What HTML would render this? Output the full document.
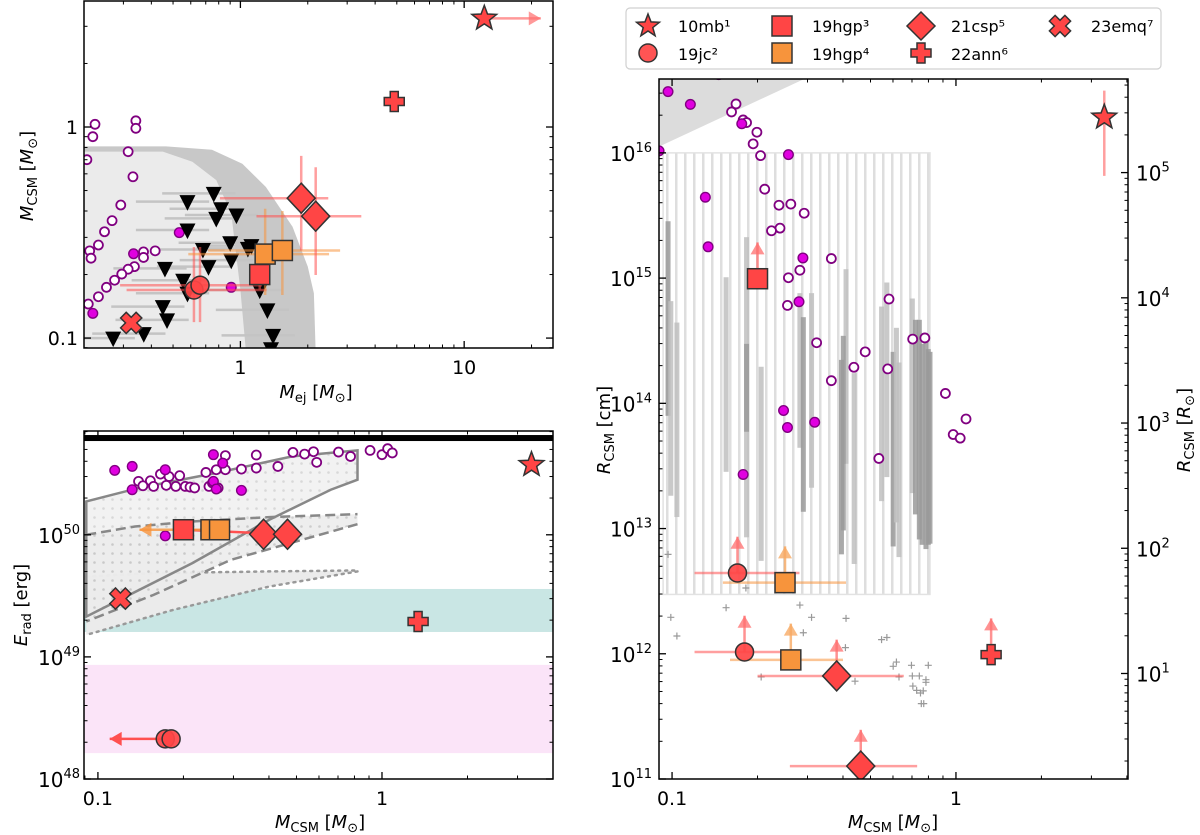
<!DOCTYPE html>
<html><head><meta charset="utf-8"><title>CSM parameter comparison</title>
<style>
html,body{margin:0;padding:0;background:#fff;}
svg{display:block;font-family:"DejaVu Sans","Liberation Sans",sans-serif;}
</style></head>
<body>
<svg id="fig" xmlns="http://www.w3.org/2000/svg" width="1200" height="835" viewBox="0 0 1200 835">
<defs>
  <clipPath id="clipA"><rect x="84" y="1" width="469" height="347"/></clipPath>
  <clipPath id="clipB"><rect x="84" y="431" width="469" height="348"/></clipPath>
  <clipPath id="clipC"><rect x="659" y="79" width="469" height="700"/></clipPath>
  <pattern id="dots" width="9" height="9" patternUnits="userSpaceOnUse">
    <rect width="9" height="9" fill="#ececec"/><circle cx="4.5" cy="4.5" r="1.3" fill="#c8c8c8"/>
  </pattern>
  <pattern id="stripes" width="9" height="10" patternUnits="userSpaceOnUse">
    <rect width="9" height="10" fill="#fff"/><rect x="0" width="2.5" height="10" fill="#dedede"/>
  </pattern>
</defs>

<g id="panelA">
  <g id="A-content" clip-path="url(#clipA)"></g>
  <rect x="84" y="1" width="469" height="347" fill="none" stroke="#000" stroke-width="1.5"/>
  <g id="A-ticks"></g>
  <text x="316" y="398" font-size="18" text-anchor="middle"><tspan font-style="italic">M</tspan><tspan font-size="13" dy="4">ej</tspan><tspan dy="-4"> [</tspan><tspan font-style="italic">M</tspan><tspan font-size="13" dy="4">⊙</tspan><tspan dy="-4">]</tspan></text>
  <text transform="translate(33,176) rotate(-90)" font-size="18" text-anchor="middle"><tspan font-style="italic">M</tspan><tspan font-size="13" dy="4">CSM</tspan><tspan dy="-4"> [</tspan><tspan font-style="italic">M</tspan><tspan font-size="13" dy="4">⊙</tspan><tspan dy="-4">]</tspan></text>
</g>

<g id="panelB">
  <g id="B-content" clip-path="url(#clipB)"></g>
  <rect x="84" y="431" width="469" height="348" fill="none" stroke="#000" stroke-width="1.5"/>
  <g id="B-ticks"></g>
  <text x="320" y="828" font-size="18" text-anchor="middle"><tspan font-style="italic">M</tspan><tspan font-size="13" dy="4">CSM</tspan><tspan dy="-4"> [</tspan><tspan font-style="italic">M</tspan><tspan font-size="13" dy="4">⊙</tspan><tspan dy="-4">]</tspan></text>
  <text transform="translate(27,605) rotate(-90)" font-size="18" text-anchor="middle"><tspan font-style="italic">E</tspan><tspan font-size="13" dy="4">rad</tspan><tspan dy="-4"> [erg]</tspan></text>
</g>

<g id="panelC">
  <g id="C-content" clip-path="url(#clipC)"></g>
  <rect x="659" y="79" width="469" height="700" fill="none" stroke="#000" stroke-width="1.5"/>
  <g id="C-ticks"></g>
  <text x="893" y="828" font-size="18" text-anchor="middle"><tspan font-style="italic">M</tspan><tspan font-size="13" dy="4">CSM</tspan><tspan dy="-4"> [</tspan><tspan font-style="italic">M</tspan><tspan font-size="13" dy="4">⊙</tspan><tspan dy="-4">]</tspan></text>
  <text transform="translate(610,430) rotate(-90)" font-size="18" text-anchor="middle"><tspan font-style="italic">R</tspan><tspan font-size="13" dy="4">CSM</tspan><tspan dy="-4"> [cm]</tspan></text>
  <text transform="translate(1190,430) rotate(-90)" font-size="18" text-anchor="middle"><tspan font-style="italic">R</tspan><tspan font-size="13" dy="4">CSM</tspan><tspan dy="-4"> [</tspan><tspan font-style="italic">R</tspan><tspan font-size="13" dy="4">⊙</tspan><tspan dy="-4">]</tspan></text>
</g>

<g id="legend">
  <rect x="626" y="8" width="535" height="61" rx="4" fill="#fff" stroke="#d0d0d0" stroke-width="1.2"/>
  <g id="legend-marks"></g>
  <text x="678" y="32" font-size="16">10mb¹</text>
  <text x="678" y="60" font-size="16">19jc²</text>
  <text x="812" y="32" font-size="16">19hgp³</text>
  <text x="812" y="60" font-size="16">19hgp⁴</text>
  <text x="951" y="32" font-size="16">21csp⁵</text>
  <text x="951" y="60" font-size="16">22ann⁶</text>
  <text x="1091" y="32" font-size="16">23emq⁷</text>
</g>
</svg>

<script>
// Panel A (M_ej, M_CSM)
const aTriX = [0.76,0.58,0.82,0.78,0.96,0.58,0.90,1.12,0.68,1.08,0.91,0.72,0.46,0.555,0.58,1.22,0.45,0.47,1.32,1.40,0.37,0.27,1.37];
const aTriY = [0.485,0.443,0.41,0.369,0.383,0.325,0.283,0.274,0.263,0.266,0.234,0.218,0.214,0.188,0.163,0.169,0.141,0.122,0.136,0.103,0.105,0.1,0.089];
const aOpenX = [0.224,0.219,0.341,0.341,0.206,0.315,0.331,0.292,0.267,0.247,0.232,0.212,0.215,0.369,0.369,0.416,0.336,0.315,0.295,0.274,0.252,0.232,0.209];
const aOpenY = [1.03,0.90,1.07,0.986,0.70,0.764,0.581,0.427,0.36,0.319,0.276,0.259,0.239,0.256,0.241,0.259,0.218,0.212,0.201,0.188,0.174,0.157,0.145];
const aFillX = [0.533,0.333,0.91,0.219];
const aFillY = [0.316,0.251,0.174,0.131];
const aOuterX = [0.2,0.465,0.746,1.02,1.30,1.71,2.0,2.13,2.17];
const aOuterY = [0.81,0.81,0.78,0.67,0.52,0.337,0.218,0.163,0.085];
const aInnerX = [0.2,0.45,0.61,0.78,0.91,1.0,1.06];
const aInnerY = [0.764,0.764,0.685,0.56,0.39,0.169,0.085];
const aStar = {x:12.3, y:3.27, xArrow:22};
const aPlus = {x:4.87, y:1.32};
const aDiaX = [1.87,2.17], aDiaY=[0.46,0.378];
const aDiaXlo=[0.81,1.18], aDiaXhi=[2.47,3.47], aDiaYlo=[0.26,0.199], aDiaYhi=[0.73,0.645];
const aOrX=[1.29,1.54], aOrY=[0.25,0.26], aOrXlo=[0.585,0.717], aOrXhi=[2.49,2.79], aOrYlo=[0.16,0.16], aOrYhi=[0.41,0.40];
const aSq = {x:1.22, y:0.20, ylo:0.17, yhi:0.24};
const aCirX=[0.62,0.66], aCirY=[0.169,0.178], aCirXlo=[0.31,0.29], aCirXhi=[1.31,1.25], aCirYlo=[0.119,0.119], aCirYhi=[0.27,0.27];
const aX = {x:0.325, y:0.118};

// Panel B (M_CSM, E_rad)
const bOpenM = [0.139,0.144,0.153,0.157,0.166,0.174,0.178,0.188,0.194,0.203,0.211,0.219,0.24,0.246,0.253,0.261,0.265,0.281,0.281,0.32,0.361,0.361,0.43,0.486,0.534,0.574,0.589,0.703,0.775,0.908,1.0,1.047,1.087];
const bOpenE = [2.74e50,2.52e50,2.77e50,2.49e50,3.14e50,2.54e50,3.0e50,2.49e50,3.05e50,2.49e50,2.46e50,2.42e50,3.24e50,2.49e50,2.66e50,3.41e50,2.42e50,3.41e50,4.45e50,3.45e50,4.5e50,3.52e50,3.63e50,4.73e50,4.58e50,4.79e50,3.92e50,4.76e50,4.38e50,4.91e50,4.53e50,5.07e50,4.68e50];
const bFillM = [0.1146,0.132,0.132,0.1726,0.1726,0.255,0.255,0.261,0.275,0.32];
const bFillE = [3.37e50,3.63e50,2.34e50,3.41e50,0.98e50,4.53e50,2.74e50,2.37e50,3.86e50,2.31e50];
const bSolidM = [0.091,0.139,0.259,0.483,0.82,0.82,0.66,0.401,0.215,0.091];
const bSolidLogE = [50.273,50.383,50.505,50.642,50.691,50.451,50.369,50.123,49.768,49.33];
const bDashUpM = [0.091,0.135,0.215,0.401,0.82], bDashUpLogE=[50.0,50.068,50.109,50.145,50.169];
const bDashLoM = [0.82,0.294,0.157,0.091], bDashLoLogE=[50.087,49.795,49.508,49.29];
const bDotUpM = [0.091,0.157,0.401,0.82], bDotUpLogE=[49.658,49.686,49.7,49.708];
const bDotLoM = [0.82,0.401,0.184,0.091], bDotLoLogE=[49.7,49.576,49.385,49.18];
const bTeal = [1.6e49, 3.6e49];
const bPink = [1.63e48, 8.6e48];
const bLimitE = 6.2e50;
const bStar = {m:3.36, e:3.75e50};
const bSq = {m:0.2, e:1.1e50};
const bOrM = [0.25,0.268], bOrE=[1.1e50,1.1e50], bOrArrowTo=0.14;
const bDiaM = [0.383,0.465], bDiaE=[1.01e50,1.01e50];
const bX = {m:0.12, e:3.0e49};
const bPlus = {m:1.34, e:1.95e49, arrowTo:1.24};
const bCirM = [0.1726,0.181], bCirE=[2.13e48,2.13e48], bCirArrowTo=0.11;

// Panel C (M_CSM, R_CSM)
const cOpenM = [0.168,0.162,0.178,0.183,0.199,0.193,0.205,0.212,0.238,0.262,0.292,0.24,0.224,0.257,0.282,0.255,0.364,0.323,0.581,0.704,0.777,0.479,0.437,0.575,0.364,0.918,1.085,0.978,1.035,0.535];
const cOpenLogR = [16.391,16.327,16.263,16.242,16.165,16.072,15.978,15.71,15.582,15.591,15.518,15.399,15.378,15.003,15.063,14.782,15.156,14.484,14.833,14.513,14.522,14.411,14.288,14.275,14.181,14.079,13.875,13.751,13.722,13.56];
const cFillM = [0.0968,0.116,0.176,0.146,0.257,0.131,0.134,0.289,0.28,0.247,0.255,0.318,0.178,0.09];
const cFillLogR = [16.489,16.387,16.233,16.625,15.986,15.646,15.25,15.161,14.811,13.943,13.807,13.849,13.432,16.016];
const cPlusM = [0.0968,0.099,0.104,0.182,0.155,0.282,0.31,0.29,0.41,0.408,0.206,0.441,0.63,0.547,0.571,0.601,0.617,0.697,0.799,0.702,0.743,0.784,0.784,0.705,0.727,0.75,0.767,0.755,0.77];
const cPlusLogR = [12.794,12.291,12.142,12.525,12.368,12.389,12.291,12.168,12.283,12.049,11.815,11.781,11.815,12.113,12.13,11.9,11.934,11.908,11.908,11.823,11.823,11.793,11.772,11.742,11.708,11.687,11.704,11.602,11.602];
const cBarM = [0.0968,0.099,0.104,0.155,0.183,0.183,0.206,0.282,0.29,0.31,0.41,0.401,0.395,0.438,0.547,0.571,0.601,0.617,0.63,0.702,0.72,0.743,0.76,0.784,0.799,0.81];
const cBarTop = [15.454,14.816,14.645,15.007,15.327,14.475,14.292,14.88,14.688,14.88,15.071,14.539,14.347,14.241,14.773,14.965,14.411,14.603,14.326,14.837,14.667,14.667,14.475,14.496,14.433,14.411];
const cBarBot = [13.90,13.262,13.092,13.453,12.93,13.773,12.742,13.645,13.134,13.326,13.517,12.985,12.794,12.717,13.219,13.411,12.857,13.049,12.772,13.283,13.113,12.913,12.87,12.836,12.87,12.879];
const cBarDark = [1,0,0,0,0,1,0,0,1,0,0,1,1,0,0,0,1,0,0,0,1,1,1,1,1,1];
const cStripe = {m0:0.093, m1:0.81, r0:12.474, r1:16.0};
const cWedge = {m1:0.292, rLeft:16.05};
const cStar = {m:3.33, logR:16.284, lo:15.816, hi:16.497};
const cSq = {m:0.2, logR:14.995};
const cCir = {m:[0.17,0.18], logR:[12.645,12.014], mlo:[0.12,0.12], mhi:[0.281,0.27]};
const cOr = {m:[0.25,0.262], logR:[12.568,11.951], mlo:[0.151,0.16], mhi:[0.41,0.40]};
const cDia = {m:[0.38,0.462], logR:[11.823,11.103], mlo:[0.2,0.26], mhi:[0.655,0.73]};
const cPlus = {m:1.33, logR:11.993};

const NS='http://www.w3.org/2000/svg';
const LOG=Math.log10;
function mk(tag,parent,attrs){const e=document.createElementNS(NS,tag);for(const k in attrs)e.setAttribute(k,attrs[k]);parent.appendChild(e);return e;}
function scale(p0,p1,l0,l1){return v=>p0+(LOG(v)-l0)/(l1-l0)*(p1-p0);}
function lin(p0,p1,l0,l1){return v=>p0+(v-l0)/(l1-l0)*(p1-p0);}

const RED='#ff4545', ORANGE='#f7943c', EDGE='#333', ERR='rgba(255,80,80,0.55)', OERR='rgba(247,148,60,0.55)';

function starPts(cx,cy,r){let s='';for(let i=0;i<10;i++){const rr=i%2?r*0.42:r;const a=-Math.PI/2+i*Math.PI/5;s+=(cx+rr*Math.cos(a)).toFixed(1)+','+(cy+rr*Math.sin(a)).toFixed(1)+' ';}return s;}
function drawStar(g,cx,cy,r){return mk('polygon',g,{points:starPts(cx,cy,r),fill:RED,stroke:EDGE,'stroke-width':1.5});}
function drawCircle(g,cx,cy,r){return mk('circle',g,{cx,cy,r,fill:RED,stroke:EDGE,'stroke-width':1.5,'fill-opacity':0.92});}
function drawSquare(g,cx,cy,s,c){return mk('rect',g,{x:cx-s/2,y:cy-s/2,width:s,height:s,fill:c,stroke:EDGE,'stroke-width':1.5});}
function drawDiamond(g,cx,cy,w,h){return mk('polygon',g,{points:`${cx},${cy-h} ${cx+w},${cy} ${cx},${cy+h} ${cx-w},${cy}`,fill:RED,stroke:EDGE,'stroke-width':1.5});}
function drawPlus(g,cx,cy,r,t){const p=[[-t,-r],[t,-r],[t,-t],[r,-t],[r,t],[t,t],[t,r],[-t,r],[-t,t],[-r,t],[-r,-t],[-t,-t]].map(q=>(cx+q[0])+','+(cy+q[1])).join(' ');return mk('polygon',g,{points:p,fill:RED,stroke:EDGE,'stroke-width':1.5});}
function drawX(g,cx,cy,r,t){const pts=[];const base=[[-t,-r],[t,-r],[t,-t],[r,-t],[r,t],[t,t],[t,r],[-t,r],[-t,t],[-r,t],[-r,-t],[-t,-t]];const c=Math.SQRT1_2;base.forEach(q=>{pts.push((cx+(q[0]-q[1])*c).toFixed(1)+','+(cy+(q[0]+q[1])*c).toFixed(1));});return mk('polygon',g,{points:pts.join(' '),fill:RED,stroke:EDGE,'stroke-width':1.5});}
function drawTri(g,cx,cy,w,h){return mk('polygon',g,{points:`${cx-w},${cy-h*0.5} ${cx+w},${cy-h*0.5} ${cx},${cy+h*0.7}`,fill:'#000'});}
function line(g,x1,y1,x2,y2,c,w){return mk('line',g,{x1,y1,x2,y2,stroke:c,'stroke-width':w});}
function arrow(g,x1,y1,x2,y2,c){line(g,x1,y1,x2,y2,c,2.5);const a=Math.atan2(y2-y1,x2-x1),L=12,W=7;const bx=x2-L*Math.cos(a),by=y2-L*Math.sin(a);const px=-Math.sin(a)*W,py=Math.cos(a)*W;return mk('polygon',g,{points:`${x2},${y2} ${bx+px},${by+py} ${bx-px},${by-py}`,fill:c});}
function openCircle(g,cx,cy){return mk('circle',g,{cx,cy,r:4.5,fill:'#fff',stroke:'#800080','stroke-width':1.8});}
function fillCircle(g,cx,cy){return mk('circle',g,{cx,cy,r:4.8,fill:'#e000e0',stroke:'#800080','stroke-width':1.4});}

function txt(g,x,y,s,anchor,size){const t=mk('text',g,{x,y,'font-size':size||19,'text-anchor':anchor||'middle'});t.textContent=s;return t;}
function powTxt(g,x,y,exp,anchor){const t=mk('text',g,{x,y,'font-size':20,'text-anchor':anchor||'end'});const a=mk('tspan',t,{});a.textContent='10';const b=mk('tspan',t,{'font-size':13,dy:-9});b.textContent=String(exp);return t;}

function logSide(g,f,lo,hi,side,fixed){
  for(let d=Math.floor(lo)-1; d<=Math.ceil(hi); d++){
    for(let m=1;m<10;m++){
      const lv=d+Math.log10(m);
      if(lv<lo-1e-6||lv>hi+1e-6)continue;
      const p=f(Math.pow(10,lv)); const L=m===1?7:3.5; const w=m===1?1.3:1;
      if(side==='b')line(g,p,fixed,p,fixed-L,'#000',w);
      if(side==='t')line(g,p,fixed,p,fixed+L,'#000',w);
      if(side==='l')line(g,fixed,p,fixed+L,p,'#000',w);
      if(side==='r')line(g,fixed,p,fixed-L,p,'#000',w);
    }
  }
}

// PANEL A
(function(){
  const g=document.getElementById('A-content'), tk=document.getElementById('A-ticks');
  const X=scale(84,553,LOG(0.2),1.397), Y=scale(348,1,-1.047,0.597);
  let pts=aOuterX.map((v,i)=>X(v)+','+Y(aOuterY[i]));pts.push(X(0.2)+','+Y(0.085));
  const outer=mk('polygon',g,{points:pts.join(' '),fill:'#c8c8c8'});
  
  
  pts=aInnerX.map((v,i)=>X(v)+','+Y(aInnerY[i]));pts.push(X(0.2)+','+Y(0.085));
  const inner=mk('polygon',g,{points:pts.join(' '),fill:'#ebebeb'});
  
  
  aTriX.forEach((v,i)=>{const l=line(g,X(v/1.7),Y(aTriY[i]),X(v*1.25),Y(aTriY[i]),'#c4c4c4',2.5);
    
    });
  aOpenX.forEach((v,i)=>{const c=openCircle(g,X(v),Y(aOpenY[i]));
    
    });
  aFillX.forEach((v,i)=>{const c=fillCircle(g,X(v),Y(aFillY[i]));
    
    });
  aTriX.forEach((v,i)=>{const t=drawTri(g,X(v),Y(aTriY[i]),8,13);
    
    });
  aCirX.forEach((v,i)=>{line(g,X(aCirXlo[i]),Y(aCirY[i]),X(aCirXhi[i]),Y(aCirY[i]),ERR,2.5);line(g,X(v),Y(aCirYlo[i]),X(v),Y(aCirYhi[i]),ERR,2.5);});
  aOrX.forEach((v,i)=>{line(g,X(aOrXlo[i]),Y(aOrY[i]),X(aOrXhi[i]),Y(aOrY[i]),OERR,2.5);line(g,X(v),Y(aOrYlo[i]),X(v),Y(aOrYhi[i]),OERR,2.5);});
  aDiaX.forEach((v,i)=>{line(g,X(aDiaXlo[i]),Y(aDiaY[i]),X(aDiaXhi[i]),Y(aDiaY[i]),ERR,2.5);line(g,X(v),Y(aDiaYlo[i]),X(v),Y(aDiaYhi[i]),ERR,2.5);});
  line(g,X(aSq.x),Y(aSq.ylo),X(aSq.x),Y(aSq.yhi),ERR,2.5);
  arrow(g,X(aStar.x),Y(aStar.y),X(aStar.xArrow),Y(aStar.y),'rgba(255,110,110,0.7)');
  aCirX.forEach((v,i)=>{const c=drawCircle(g,X(v),Y(aCirY[i]),9);
    
    });
  let m=drawSquare(g,X(aSq.x),Y(aSq.y),20,RED);
  
  
  aOrX.forEach((v,i)=>{const s=drawSquare(g,X(v),Y(aOrY[i]),20,ORANGE);
    
    });
  aDiaX.forEach((v,i)=>{const d=drawDiamond(g,X(v),Y(aDiaY[i]),14,15);
    
    });
  m=drawPlus(g,X(aPlus.x),Y(aPlus.y),10,4);
  
  
  m=drawX(g,X(aX.x),Y(aX.y),11,4);
  
  
  m=drawStar(g,X(aStar.x),Y(aStar.y),13);
  
  
  logSide(tk,X,LOG(0.2),1.397,'b',348);logSide(tk,X,LOG(0.2),1.397,'t',1);
  logSide(tk,Y,-1.047,0.597,'l',84);logSide(tk,Y,-1.047,0.597,'r',553);
  txt(tk,X(1),374,'1');txt(tk,X(10),374,'10');
  txt(tk,78,Y(0.1)+7,'0.1','end');txt(tk,78,Y(1)+7,'1','end');
})();

// PANEL B
(function(){
  const g=document.getElementById('B-content'), tk=document.getElementById('B-ticks');
  const X=scale(84,553,-1.049,0.602), Y=scale(779,431,48,50.85), YL=lin(779,431,48,50.85);
  let r=mk('rect',g,{x:84,y:Y(bTeal[1]),width:469,height:Y(bTeal[0])-Y(bTeal[1]),fill:'#c9e6e4'});
  
  
  r=mk('rect',g,{x:84,y:Y(bPink[1]),width:469,height:Y(bPink[0])-Y(bPink[1]),fill:'#fbe4f8'});
  
  
  let pts=bDotUpM.map((v,i)=>X(v)+','+YL(bDotUpLogE[i])).concat(bDotLoM.map((v,i)=>X(v)+','+YL(bDotLoLogE[i])));
  let p=mk('polygon',g,{points:pts.join(' '),fill:'#ebebeb',stroke:'none'});
  
  
  mk('polyline',g,{points:bDotUpM.map((v,i)=>X(v)+','+YL(bDotUpLogE[i])).join(' '),fill:'none',stroke:'#999','stroke-width':2.5,'stroke-dasharray':'2 5','stroke-linecap':'round'});
  mk('polyline',g,{points:bDotLoM.map((v,i)=>X(v)+','+YL(bDotLoLogE[i])).join(' '),fill:'none',stroke:'#999','stroke-width':2.5,'stroke-dasharray':'2 5','stroke-linecap':'round'});
  pts=bDashUpM.map((v,i)=>X(v)+','+YL(bDashUpLogE[i])).concat(bDashLoM.map((v,i)=>X(v)+','+YL(bDashLoLogE[i])));
  p=mk('polygon',g,{points:pts.join(' '),fill:'url(#dots)',stroke:'none','fill-opacity':0.9});
  
  
  pts=bSolidM.map((v,i)=>X(v)+','+YL(bSolidLogE[i]));
  p=mk('polygon',g,{points:pts.join(' '),fill:'url(#dots)','fill-opacity':0.7,stroke:'#888','stroke-width':2.5});
  
  
  mk('polyline',g,{points:bDashUpM.map((v,i)=>X(v)+','+YL(bDashUpLogE[i])).join(' '),fill:'none',stroke:'#888','stroke-width':2.5,'stroke-dasharray':'10 5'});
  mk('polyline',g,{points:bDashLoM.map((v,i)=>X(v)+','+YL(bDashLoLogE[i])).join(' '),fill:'none',stroke:'#888','stroke-width':2.5,'stroke-dasharray':'10 5'});
  r=mk('rect',g,{x:84,y:Y(bLimitE)-3,width:469,height:6,fill:'#000'});
  
  
  bOpenM.forEach((v,i)=>{const c=openCircle(g,X(v),Y(bOpenE[i]));
    
    });
  bFillM.forEach((v,i)=>{const c=fillCircle(g,X(v),Y(bFillE[i]));
    
    });
  line(g,X(bSq.m),Y(bSq.e),X(bDiaM[1]),Y(bDiaE[1]),'#ff5050',2.5);
  arrow(g,X(bOrM[0]),Y(bOrE[0]),X(bOrArrowTo),Y(bOrE[0]),'rgba(247,148,60,0.8)');
  arrow(g,X(bCirM[0]),Y(bCirE[0]),X(bCirArrowTo),Y(bCirE[0]),'#ff5050');
  arrow(g,X(bPlus.m),Y(bPlus.e),X(bPlus.arrowTo),Y(bPlus.e),'rgba(230,100,100,0.7)');
  let m=drawSquare(g,X(bSq.m),Y(bSq.e),20,RED);
  
  
  bOrM.forEach((v,i)=>{const s=drawSquare(g,X(v),Y(bOrE[i]),20,ORANGE);
    
    });
  bDiaM.forEach((v,i)=>{const d=drawDiamond(g,X(v),Y(bDiaE[i]),14,15);
    
    });
  bCirM.forEach((v,i)=>{const c=drawCircle(g,X(v),Y(bCirE[i]),9);
    
    });
  m=drawX(g,X(bX.m),Y(bX.e),11,4);
  
  
  m=drawPlus(g,X(bPlus.m),Y(bPlus.e),10,4);
  
  
  m=drawStar(g,X(bStar.m),Y(bStar.e),13);
  
  
  logSide(tk,X,-1.049,0.602,'b',779);logSide(tk,X,-1.049,0.602,'t',431);
  logSide(tk,Y,48,50.85,'l',84);logSide(tk,Y,48,50.85,'r',553);
  txt(tk,X(0.1),805,'0.1');txt(tk,X(1),805,'1');
  [48,49,50].forEach(e=>powTxt(tk,80,Y(Math.pow(10,e))+8,e));
})();

// PANEL C
(function(){
  const g=document.getElementById('C-content'), tk=document.getElementById('C-ticks');
  const X=scale(659,1128,-1.046,0.606), YL=lin(779,79,11.0,16.59);
  let p=mk('polygon',g,{points:`659,79 ${X(cWedge.m1)},79 659,${YL(cWedge.rLeft)}`,fill:'#dcdcdc'});
  
  
  let r=mk('rect',g,{x:X(cStripe.m0),y:YL(cStripe.r1),width:X(cStripe.m1)-X(cStripe.m0),height:YL(cStripe.r0)-YL(cStripe.r1),fill:'url(#stripes)',stroke:'#e2e2e2','stroke-width':1.5});
  
  
  cBarM.forEach((v,i)=>{const b=mk('rect',g,{x:X(v)-2.5,y:YL(cBarTop[i]),width:5,height:YL(cBarBot[i])-YL(cBarTop[i]),fill:cBarDark[i]?'#9a9a9a':'#c0c0c0','fill-opacity':0.85});
    
    });
  cPlusM.forEach((v,i)=>{const x=X(v),y=YL(cPlusLogR[i]);const pp=mk('path',g,{d:`M${x-3.5},${y}H${x+3.5}M${x},${y-3.5}V${y+3.5}`,stroke:'#999','stroke-width':1.2});
    
    });
  cOpenM.forEach((v,i)=>{const c=openCircle(g,X(v),YL(cOpenLogR[i]));
    
    });
  cFillM.forEach((v,i)=>{const c=fillCircle(g,X(v),YL(cFillLogR[i]));
    
    });
  line(g,X(cStar.m),YL(cStar.lo),X(cStar.m),YL(cStar.hi),ERR,2.5);
  arrow(g,X(cSq.m),YL(cSq.logR),X(cSq.m),YL(cSq.logR+0.29),'rgba(255,110,110,0.75)');
  cCir.m.forEach((v,i)=>{line(g,X(cCir.mlo[i]),YL(cCir.logR[i]),X(cCir.mhi[i]),YL(cCir.logR[i]),ERR,2.5);arrow(g,X(v),YL(cCir.logR[i]),X(v),YL(cCir.logR[i]+0.29),'rgba(255,110,110,0.75)');});
  cOr.m.forEach((v,i)=>{line(g,X(cOr.mlo[i]),YL(cOr.logR[i]),X(cOr.mhi[i]),YL(cOr.logR[i]),OERR,2.5);arrow(g,X(v),YL(cOr.logR[i]),X(v),YL(cOr.logR[i]+0.29),'rgba(247,170,100,0.8)');});
  cDia.m.forEach((v,i)=>{line(g,X(cDia.mlo[i]),YL(cDia.logR[i]),X(cDia.mhi[i]),YL(cDia.logR[i]),ERR,2.5);arrow(g,X(v),YL(cDia.logR[i]),X(v),YL(cDia.logR[i]+0.29),'rgba(255,110,110,0.75)');});
  arrow(g,X(cPlus.m),YL(cPlus.logR),X(cPlus.m),YL(cPlus.logR+0.29),'rgba(255,110,110,0.75)');
  let m=drawSquare(g,X(cSq.m),YL(cSq.logR),20,RED);
  
  
  cCir.m.forEach((v,i)=>{const c=drawCircle(g,X(v),YL(cCir.logR[i]),9);
    
    });
  cOr.m.forEach((v,i)=>{const s=drawSquare(g,X(v),YL(cOr.logR[i]),20,ORANGE);
    
    });
  cDia.m.forEach((v,i)=>{const d=drawDiamond(g,X(v),YL(cDia.logR[i]),14,15);
    
    });
  m=drawPlus(g,X(cPlus.m),YL(cPlus.logR),10,4);
  
  
  m=drawStar(g,X(cStar.m),YL(cStar.logR),13);
  
  
  const Y=v=>YL(LOG(v));
  logSide(tk,X,-1.046,0.606,'b',779);logSide(tk,X,-1.046,0.606,'t',79);
  logSide(tk,Y,11.0,16.59,'l',659);
  const RS=10.8426;
  const Yr=v=>YL(LOG(v)+RS);
  logSide(tk,Yr,11.0-RS,16.59-RS,'r',1128);
  txt(tk,X(0.1),805,'0.1');txt(tk,X(1),805,'1');
  [11,12,13,14,15,16].forEach(e=>powTxt(tk,652,YL(e)+8,e));
  [1,2,3,4,5].forEach(e=>powTxt(tk,1136,YL(e+RS)+8,e,'start'));
})();

// LEGEND
(function(){
  const g=document.getElementById('legend-marks');
  let m=drawStar(g,648,26,12);
  
  
  m=drawCircle(g,648,53,9);
  
  
  m=drawSquare(g,782,26,20,RED);
  
  
  m=drawSquare(g,782,53,20,ORANGE);
  
  
  m=drawDiamond(g,921,26,14,14);
  
  
  m=drawPlus(g,921,53,10,4);
  
  
  m=drawX(g,1060,26,11,4);
  
  
})();
</script>
</body></html>
